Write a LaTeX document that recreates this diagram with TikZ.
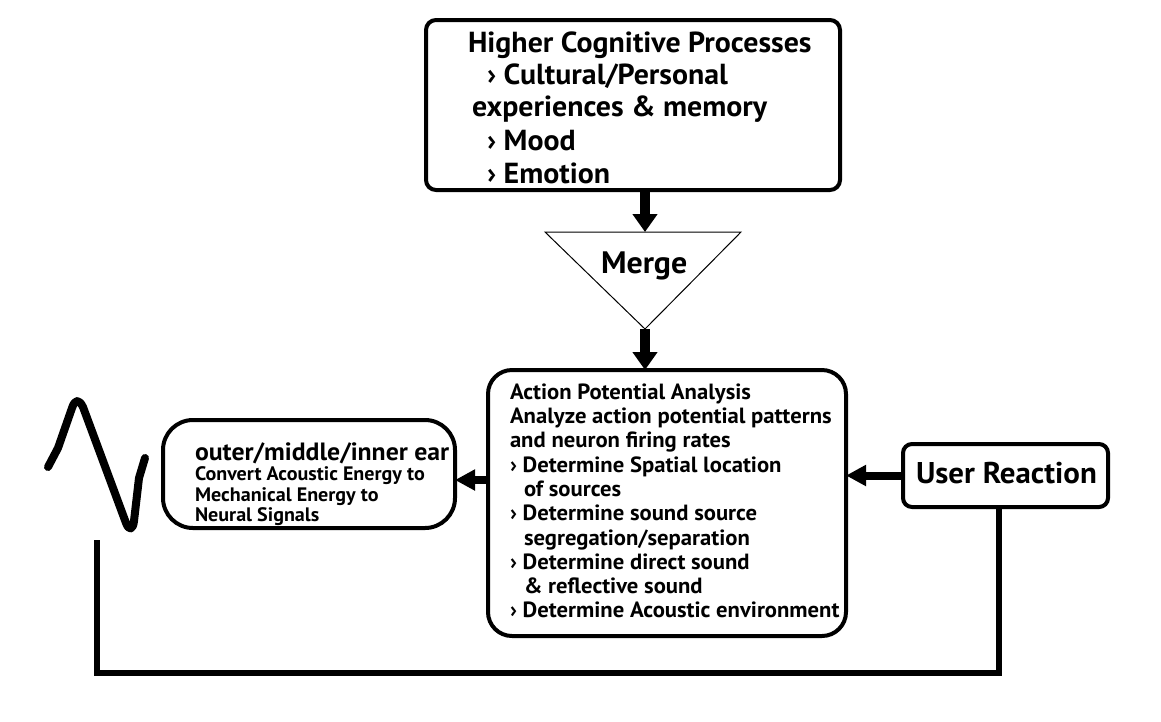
\documentclass[tikz,border=0pt]{standalone}
\usepackage{fontspec}
\setmainfont{PT Sans}[FakeStretch=1.03]
\usetikzlibrary{arrows.meta}
\begin{document}
\begin{tikzpicture}[x=1pt,y=-1pt,
  box/.style={draw=black, line width=4pt, fill=white, inner sep=0pt, outer sep=0pt, anchor=north west},
  lbl/.style={inner sep=0pt, outer sep=0pt, anchor=base west, font=\bfseries},
  flow/.style={line width=10pt, -{Triangle[length=18pt,width=24pt]}},
  thinflow/.style={line width=8pt, -{Triangle[length=20pt,width=20pt]}},
  big/.style={lbl, font=\bfseries\fontsize{29}{32}\selectfont},
  mid/.style={lbl, font=\bfseries\fontsize{22}{24}\selectfont},
  small/.style={lbl, font=\bfseries\fontsize{19.5}{21}\selectfont},
  ]
\useasboundingbox (0,0) rectangle (1161,721);

% boxes
\node[box, rounded corners=10pt, minimum width=414pt, minimum height=170pt] (hcp) at (426,20) {};
\node[box, rounded corners=24pt, minimum width=358pt, minimum height=266pt] (apa) at (488,370) {};
\node[box, rounded corners=30pt, minimum width=292pt, minimum height=108pt] (ear) at (163,420) {};
\node[box, rounded corners=9pt, minimum width=205pt, minimum height=63pt] (ur) at (903,444) {};

% merge triangle
\coordinate (mtl) at (545,232);
\coordinate (mtr) at (741,232);
\coordinate (mbot) at (645,329);
\coordinate (mtop) at (645,232);
\draw[line width=1pt, line join=miter] (mtl) -- (mtr) -- (mbot) -- cycle;
\node[big, font=\bfseries\fontsize{31}{34}\selectfont] (merge) at (601,273) {Merge};

% top box text
\node[big] (h1) at (468,52) {Higher Cognitive Processes};
\node[big] (h2) at (487,84) {› Cultural/Personal};
\node[big] (h3) at (472,116) {experiences \& memory};
\node[big] (h4) at (487,150) {› Mood};
\node[big] (h5) at (487,183) {› Emotion};

% APA text
\node[mid] (a1) at (510,399) {Action Potential Analysis};
\node[mid] (a2) at (510,423) {Analyze action potential patterns};
\node[mid] (a3) at (510,447) {and neuron firing rates};
\node[mid] (a4) at (510,472) {› Determine Spatial location};
\node[mid] (a5) at (524,496) {of sources};
\node[mid] (a6) at (510,520) {› Determine sound source};
\node[mid] (a7) at (524,545) {segregation/separation};
\node[mid] (a8) at (510,569) {› Determine direct sound};
\node[mid] (a9) at (524,593) {\& reflective sound};
\node[mid] (a10) at (510,617) {› Determine Acoustic environment};

% ear text
\node[lbl, font=\bfseries\fontsize{25}{28}\selectfont] (e1) at (195,460) {outer/middle/inner ear};
\node[small] (e2) at (195,480) {Convert Acoustic Energy to};
\node[small] (e3) at (195,501) {Mechanical Energy to};
\node[small] (e4) at (195,521) {Neural Signals};

% user reaction text
\node[lbl, font=\bfseries\fontsize{30}{32}\selectfont] (u1) at (916,483) {User Reaction};

% connectors
\draw[flow] (hcp.south -| mtop) -- (mtop);
\draw[flow] (mbot) -- (apa.north -| mbot);
\draw[thinflow] (ur.west) -- (ur.west -| apa.east);
\coordinate (earin) at (455,480);
\draw[thinflow] (apa.west |- earin) -- (earin);

% feedback loop
\coordinate (fb1) at (97,673);
\coordinate (fb2) at (97,540);
\draw[line width=6pt] ([xshift=-7pt]ur.south) |- (fb1) -- (fb2);

% sound wave
\draw[line width=8pt, line cap=round, line join=round]
  (48,467) -- (58,448) -- (72,408) .. controls (75,399) and (79,399) .. (83,407)
  -- (126,523) .. controls (129,531) and (133,530) .. (134,521) -- (139,478) -- (145,458);
\end{tikzpicture}
\end{document}
